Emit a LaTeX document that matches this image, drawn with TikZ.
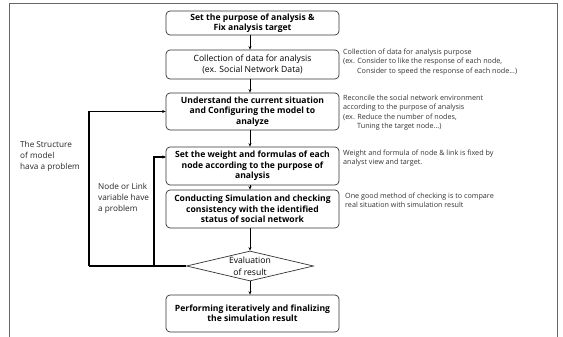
\documentclass[tikz,border=0pt]{standalone}
\usepackage{fontspec}
\setmainfont{Open Sans}
\usetikzlibrary{shapes.geometric,arrows.meta}
\begin{document}
\begin{tikzpicture}[x=1pt,y=-1pt,
 box/.style={draw=black!80, rounded corners=4pt, line width=0.7pt, minimum width=173pt, inner sep=0pt, align=center, font=\fontsize{8.6}{10.5}\selectfont\bfseries},
 ann/.style={anchor=north west, inner sep=0pt, align=left, font=\fontsize{7.2}{9.5}\selectfont, text=black!80},
 lbl/.style={anchor=north west, inner sep=0pt, align=left, font=\fontsize{8.2}{10.8}\selectfont, text=black!85},
 arr/.style={line width=0.9pt, -{Stealth[length=3.5pt,width=3pt]}},
 fb/.style={line width=1.1pt},
 fbarr/.style={line width=1.1pt, -{Stealth[length=3.5pt,width=3pt]}}]
\useasboundingbox (0,0) rectangle (563,337);
\draw[black!60, line width=0.8pt] (9,340) -- (9,3) -- (557,3) -- (557,340);

\node[box, minimum height=24pt] (b1) at (252.5,23) {Set the purpose of analysis \&\\Fix analysis target};
\node[box, minimum height=29pt] (b2) at (252.5,64.5) {\mdseries Collection of data for analysis\\\mdseries(ex. Social Network Data)};
\node[box, minimum height=37pt] (b3) at (252.5,111.5) {Understand the current situation\\and Configuring the model to\\analyze};
\node[box, minimum height=38pt] (b4) at (252.5,166) {Set the weight and formulas of each\\node according to the purpose of\\analysis};
\node[box, minimum height=38pt] (b5) at (252.5,209) {Conducting Simulation and checking\\consistency with the identified\\status of social network};
\node[diamond, draw=black!80, line width=0.7pt, minimum width=127pt, minimum height=30pt, inner sep=0pt,
  label={[align=center, inner sep=0pt, font=\fontsize{8.6}{12.4}\selectfont]center:Evaluation\\of result}] (dia) at (250,266) {};
\node[box, minimum height=37pt] (b6) at (252.5,313.5) {Performing iteratively and finalizing\\the simulation result};

\draw[arr] (b1.south -| dia) -- (b2.north -| dia);
\draw[arr] (b2.south -| dia) -- (b3.north -| dia);
\draw[arr] (b3.south -| dia) -- (b4.north -| dia);
\draw[arr] (b4.south -| dia) -- (b5.north -| dia);
\draw[arr] (b5.south -| dia) -- (dia.north);
\draw[arr] (dia.south) -- (b6.north -| dia);

\coordinate (o) at (89,0);
\coordinate (i) at (154,0);
\coordinate (b4in) at (166,157);
\draw[fb] (dia.west) -- (dia.west -| o);
\draw[fbarr] (dia.west -| o) |- (b3.west);
\draw[fbarr] (dia.west -| i) |- (b4in);

\node[ann] (a2) at (343,48.5) {Collection of data for analysis purpose\\(ex. Consider to like the response of each node,\\\hspace*{14pt}Consider to speed the response of each node...)};
\node[ann] (a3) at (343,94.5) {Reconcile the social network environment\\according to the purpose of analysis\\(ex. Reduce the number of nodes,\\\hspace*{14pt}Tuning the target node...)};
\node[ann] (a4) at (343,149.5) {Weight and formula of node \& link is fixed by\\analyst view and target.};
\node[ann] (a5) at (345,192.5) {One good method of checking is to compare\\real situation with simulation result};

\node[lbl] (l1) at (20,141) {The Structure\\of model\\hava a problem};
\node[lbl] (l2) at (98,183) {Node or Link\\variable have\\a problem};
\end{tikzpicture}
\end{document}
